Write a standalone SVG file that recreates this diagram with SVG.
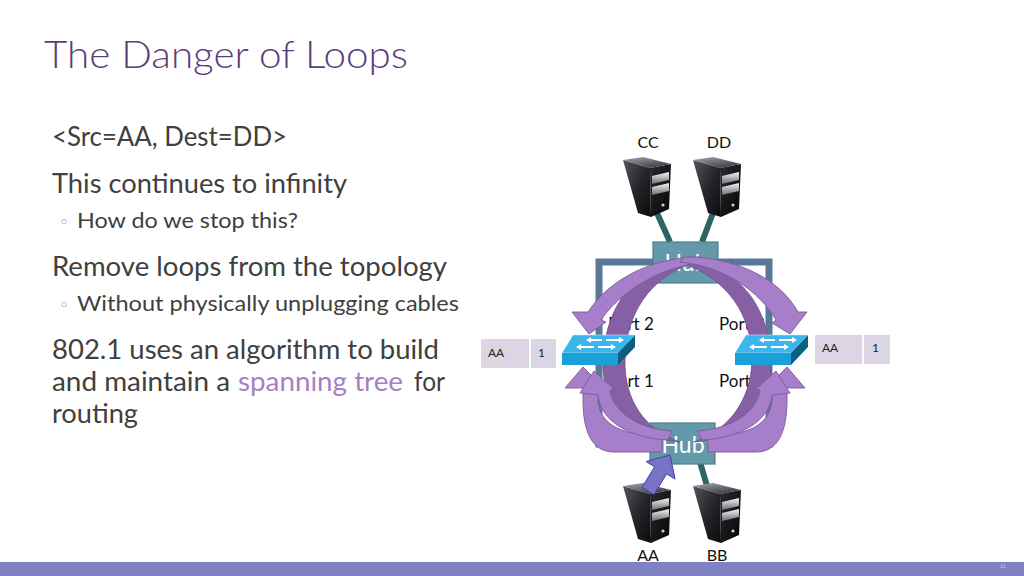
<svg xmlns="http://www.w3.org/2000/svg" width="1024" height="576" viewBox="0 0 1024 576">
<defs>
<style>
.title{font-family:Lato,"Open Sans","Liberation Sans",sans-serif;font-weight:300;font-size:38px;fill:#5a3e7c}
.main{font-family:Lato,"Liberation Sans",sans-serif;font-size:26px;fill:#404040}
.sub{font-family:Lato,"Liberation Sans",sans-serif;font-size:22px;fill:#404040}
.bul{font-family:"DejaVu Sans",sans-serif;font-size:17px;fill:#8c7ea0}
.hl{fill:#a680c6}
.lbl{font-family:Lato,"Liberation Sans",sans-serif;font-size:16px;fill:#111}
.port{font-family:Lato,"Liberation Sans",sans-serif;font-size:17px;fill:#111}
.hub{fill:#6399a8;stroke:#4a7f8e;stroke-width:1.2}
.hubt{font-family:Lato,"Liberation Sans",sans-serif;font-size:23px;fill:#ffffff;text-anchor:middle}
.cable{stroke:#2e6464;stroke-width:6;fill:none}
.link{stroke:#5a7898;stroke-width:7;fill:none}
.dark{fill:#875fa5;stroke:#71508e;stroke-width:0.8}
.light{fill:#a67ec9;stroke:#7a5a9c;stroke-width:0.9}
.cell{fill:#dcd6e4}
.ct{font-family:Lato,"Liberation Sans",sans-serif;font-size:12px;fill:#222}
.sw-arrow{stroke:#ffffff;stroke-width:2;fill:none}
</style>
<linearGradient id="gSide" x1="0" y1="0" x2="1" y2="1">
<stop offset="0" stop-color="#55555c"/><stop offset="0.5" stop-color="#26262b"/><stop offset="1" stop-color="#0b0b0d"/>
</linearGradient>
<linearGradient id="gTop" x1="0" y1="0" x2="0.6" y2="1">
<stop offset="0" stop-color="#a4a4ae"/><stop offset="1" stop-color="#3e3e46"/>
</linearGradient>
<linearGradient id="gFront" x1="0" y1="0" x2="1" y2="1">
<stop offset="0" stop-color="#2a2a2f"/><stop offset="1" stop-color="#050506"/>
</linearGradient>
<linearGradient id="gBay" x1="0" y1="0" x2="0" y2="1">
<stop offset="0" stop-color="#f6f6f6"/><stop offset="1" stop-color="#6c6c72"/>
</linearGradient>
<g id="srv">
<polygon points="0,3 27,11 28,60 15,56" fill="url(#gSide)"/>
<polygon points="27,11 48,7 46,52 28,60" fill="url(#gFront)"/>
<polygon points="0,3 20,0 48,7 27,11" fill="url(#gTop)"/>
<polygon points="29,19 46,15 46,23 29,27" fill="url(#gBay)"/>
<polygon points="29,30 46,26 46,34 29,38" fill="url(#gBay)"/>
<circle cx="40" cy="48" r="1.6" fill="#d0d0d0"/>
</g>
<g id="sw">
<polygon points="11,0 73,0 56,18 0,18" fill="#3cb6ea" stroke="#c4ecfb" stroke-width="0.6"/>
<polygon points="0,18 56,18 56,30 0,30" fill="#1b9fd9"/>
<polygon points="56,18 73,0 73,12 56,30" fill="#0b5f82"/>
<path class="sw-arrow" d="M40 5 H28 M44 5 H58 M32 12 H18 M36 12 H50"/>
<polygon points="24,5 29,2 29,8" fill="#fff"/>
<polygon points="62,5 57,2 57,8" fill="#fff"/>
<polygon points="14,12 19,9 19,15" fill="#fff"/>
<polygon points="54,12 49,9 49,15" fill="#fff"/>
</g>
</defs>

<rect width="1024" height="576" fill="#ffffff"/>

<g id="slide-text">
<text class="title" x="44" y="68" textLength="364" lengthAdjust="spacingAndGlyphs">The Danger of Loops</text>
<text class="main" x="52" y="146" textLength="235" lengthAdjust="spacingAndGlyphs">&lt;Src=AA, Dest=DD&gt;</text>
<text class="main" x="52" y="193" textLength="295" lengthAdjust="spacingAndGlyphs">This continues to infinity</text>
<text class="bul" x="59" y="228">◦</text>
<text class="sub" x="77" y="228" textLength="221" lengthAdjust="spacingAndGlyphs">How do we stop this?</text>
<text class="main" x="52" y="276" textLength="395" lengthAdjust="spacingAndGlyphs">Remove loops from the topology</text>
<text class="bul" x="59" y="311">◦</text>
<text class="sub" x="77" y="311" textLength="382" lengthAdjust="spacingAndGlyphs">Without physically unplugging cables</text>
<text class="main" x="52" y="359" textLength="387" lengthAdjust="spacingAndGlyphs">802.1 uses an algorithm to build</text>
<text class="main" x="52" y="391" textLength="178" lengthAdjust="spacingAndGlyphs">and maintain a</text>
<text class="main hl" x="238" y="391" textLength="165" lengthAdjust="spacingAndGlyphs">spanning tree</text>
<text class="main" x="414" y="391" textLength="31" lengthAdjust="spacingAndGlyphs">for</text>
<text class="main" x="52" y="423" textLength="86" lengthAdjust="spacingAndGlyphs">routing</text>
</g>

<g id="connectors">
<path class="link" d="M653 262 H599 V444 H650"/>
<path class="link" d="M718 262 H769 V444 H715"/>
<line class="cable" x1="657" y1="213" x2="670" y2="242"/>
<line class="cable" x1="713" y1="213" x2="702" y2="242"/>
<line class="cable" x1="700" y1="462" x2="707" y2="486"/>
</g>

<g id="hub-top">
<rect class="hub" x="653" y="242" width="65" height="41"/>
<text class="hubt" x="686" y="271">Hub</text>
</g>
<g id="hub-bottom">
<rect class="hub" x="650" y="423" width="65" height="41"/>
<text class="hubt" x="683" y="453">Hub</text>
</g>

<g id="port-labels">
<text class="port" x="608" y="330">Port 2</text>
<text class="port" x="608" y="387">Port 1</text>
<text class="port" x="719" y="330">Port 2</text>
<text class="port" x="719" y="387">Port 1</text>
</g>

<g id="flow-ring">
<path class="dark" d="M695 262 C640 262 606 300 603 360 C601 405 630 438 680 442 C645 430 624 400 625 360 C626 315 648 278 695 262 Z"/>
<path class="dark" d="M679 262 C734 262 768 300 771 360 C773 405 744 438 694 442 C729 430 751 400 752 360 C752 315 728 278 679 262 Z"/>
</g>

<g id="flow-arrows">
<path class="light" d="M702 257 C660 256 612 275 588 312 L572 312 L589 334 L606 322 L601 320 C620 292 660 266 706 262 Z"/>
<path class="light" d="M684 257 C728 256 778 275 798 312 L807 312 L790 334 L772 323 L776 320 C760 292 724 266 680 262 Z"/>
<path class="light" d="M662 452 L614 452 C592 452 583 432 583 400 L583 388 L565 388 L583 367 L602 386 L598 386 L598 398 C598 420 615 436 662 436 Z"/>
<path class="light" d="M668 440 C628 438 600 420 598 395 L580 393 L594 371 L614 389 L610 390 C613 410 634 428 672 431 Z"/>
<path class="light" d="M708 452 L756 452 C778 452 787 432 787 400 L787 388 L805 388 L787 367 L768 386 L772 386 L772 398 C772 420 755 436 708 436 Z"/>
<path class="light" d="M702 440 C742 438 770 420 772 395 L790 393 L776 371 L756 389 L760 390 C757 410 736 428 698 431 Z"/>
</g>

<g id="switch-left">
<use href="#sw" x="562" y="335"/>
<rect class="cell" x="481" y="339" width="48" height="29"/>
<rect class="cell" x="531" y="339" width="25" height="29"/>
<text class="ct" x="488" y="357">AA</text>
<text class="ct" x="538" y="357">1</text>
</g>
<g id="switch-right">
<use href="#sw" x="735" y="335"/>
<rect class="cell" x="815" y="335" width="47" height="29"/>
<rect class="cell" x="864" y="335" width="26" height="29"/>
<text class="ct" x="822" y="352">AA</text>
<text class="ct" x="872" y="352">1</text>
</g>

<g id="host-cc">
<use href="#srv" x="623" y="157"/>
<text class="lbl" x="648" y="148" text-anchor="middle">CC</text>
</g>
<g id="host-dd">
<use href="#srv" x="693" y="157"/>
<text class="lbl" x="719" y="148" text-anchor="middle">DD</text>
</g>
<g id="host-aa">
<use href="#srv" x="623" y="483"/>
<text class="lbl" x="648" y="561" text-anchor="middle">AA</text>
</g>
<g id="host-bb">
<use href="#srv" x="693" y="483"/>
<text class="lbl" x="717" y="561" text-anchor="middle">BB</text>
</g>

<g id="send-arrow">
<polygon points="654,494.6 666.6,473.9 675.1,479.1 670,455 646.1,461.5 654.6,466.7 642,487.4" fill="#7774c6" stroke="#46439a" stroke-width="1"/>
</g>

<rect x="0" y="562" width="1024" height="14" fill="#8080c4"/>
<text x="1000" y="568" font-family="Liberation Sans, sans-serif" font-size="5" fill="#c8c8ea">12</text>
</svg>
